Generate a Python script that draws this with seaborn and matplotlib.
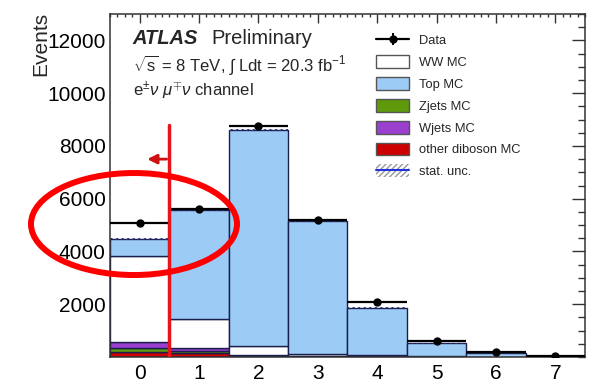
import numpy as np
import pandas as pd
import seaborn as sns
import matplotlib.pyplot as plt
from matplotlib.patches import Patch, Ellipse
from matplotlib.lines import Line2D
from matplotlib.ticker import MultipleLocator

# number of jets, one bin per integer
njets = [0, 1, 2, 3, 4, 5, 6, 7]

# stacked MC, events per bin
other_diboson = [200, 165, 50, 20, 10, 5, 2, 1]
zjets = [130, 75, 20, 10, 5, 3, 1, 0]
wjets = [250, 90, 20, 10, 5, 2, 0, 0]
ww = [3265, 1110, 340, 70, 40, 15, 5, 2]
top = [633, 4120, 8170, 5040, 1810, 495, 132, 37]

data = [5070, 5600, 8760, 5180, 2070, 620, 180, 50]

processes = ['Top MC', 'WW MC', 'Wjets MC', 'Zjets MC', 'other diboson MC']
colors = ['#9ccbf6', '#ffffff', '#9b3fd0', '#5e9a0c', '#cc0000']

cut_value = 0.5
cut_top = 8800
arrow_y = 7500

sns.set_theme(style='white')
plt.rcParams['font.family'] = ['Liberation Sans', 'DejaVu Sans']
plt.rcParams['mathtext.fontset'] = 'custom'
plt.rcParams['mathtext.rm'] = 'Liberation Sans'
plt.rcParams['mathtext.it'] = 'Liberation Sans:italic'

# long table for seaborn
rows = []
for name, vals in zip(processes, [top, ww, wjets, zjets, other_diboson]):
    for n, v in zip(njets, vals):
        rows.append({'njets': n, 'events': v, 'process': name})
df = pd.DataFrame(rows)

fig = plt.figure(figsize=(5.96, 3.9), dpi=100)
ax = fig.add_axes([0.1846, 0.0846, 0.7969, 0.8795])

sns.histplot(data=df, x='njets', weights='events', hue='process', hue_order=processes,
             palette=colors, multiple='stack', discrete=True, alpha=1, legend=False,
             edgecolor='#1b1f4d', linewidth=1.0, ax=ax)

# stat. uncertainty band on the total
total = np.array(top) + np.array(ww) + np.array(wjets) + np.array(zjets) + np.array(other_diboson)
err = np.sqrt(total) * 0.5
ax.bar(njets, 2 * err, bottom=total - err, width=1, fill=False, hatch='//////',
       edgecolor='#2a2f7a', linewidth=0)

# data
ax.errorbar(njets, data, xerr=0.5, yerr=np.sqrt(data), fmt='o', color='black',
            ms=5, elinewidth=1.6, capsize=0, zorder=5)

# cut line and arrow
ax.plot([cut_value, cut_value], [0, cut_top], color='#e8141c', lw=2.5, zorder=6)
ax.annotate('', xy=(0.08, arrow_y), xytext=(cut_value, arrow_y),
            arrowprops=dict(arrowstyle='-|>', color='#cc1111', lw=2, mutation_scale=14), zorder=6)

ax.set_axisbelow(False)
ax.set_xlim(-0.5, 7.5)
ax.set_ylim(0, 13000)
ax.set_xticks(njets)
ax.set_yticks(range(2000, 12001, 2000))
ax.xaxis.set_minor_locator(MultipleLocator(0.125))
ax.yaxis.set_minor_locator(MultipleLocator(500))
ax.tick_params(axis='both', which='both', direction='in', top=True, right=True,
               colors='#333333', labelcolor='black', labelsize=15)
ax.tick_params(axis='y', which='major', length=9.4, width=1, pad=3)
ax.tick_params(axis='y', which='minor', length=5, width=1)
ax.tick_params(axis='x', which='major', length=6.5, width=1, pad=5)
ax.tick_params(axis='x', which='minor', length=2.5, width=1)
for s in ax.spines.values():
    s.set_color('#333333')
    s.set_linewidth(1.1)
ax.set_xlabel('')
ax.set_ylabel('Events', fontsize=15, loc='top')
ax.yaxis.set_label_coords(-0.125, 1.005)

# labels
ax.text(0.048, 0.93, 'ATLAS', transform=ax.transAxes, fontsize=14.5, fontweight='bold',
        fontstyle='italic', va='center')
ax.text(0.2126, 0.93, 'Preliminary', transform=ax.transAxes, fontsize=14.5, va='center')
ax.text(0.048, 0.85, r'$\sqrt{\mathrm{s}}$ = 8 TeV, $\int$ Ldt = 20.3 fb$^{-1}$',
        transform=ax.transAxes, fontsize=12, va='center')
ax.text(0.048, 0.777, r'e$^{\pm}$$\nu$ $\mu^{\mp}$$\nu$ channel', transform=ax.transAxes,
        fontsize=12, va='center')

data_handle = (Line2D([], [], color='black', lw=1.6, marker='o', ms=5),
               Line2D([], [], color='black', lw=0, marker='|', ms=9, mew=1.4))
handles = [data_handle,
           Patch(facecolor='white', edgecolor='#555555', lw=1),
           Patch(facecolor=colors[0], edgecolor='#555555', lw=1),
           Patch(facecolor=colors[3], edgecolor='#555555', lw=1),
           Patch(facecolor=colors[2], edgecolor='#555555', lw=1),
           Patch(facecolor=colors[4], edgecolor='#555555', lw=1),
           (Patch(facecolor='none', edgecolor='#999999', hatch='//////', lw=0),
            Line2D([], [], color='#2233dd', lw=1.5))]
labels = ['Data', 'WW MC', 'Top MC', 'Zjets MC', 'Wjets MC', 'other diboson MC', 'stat. unc.']
ax.legend(handles, labels, loc='upper left', bbox_to_anchor=(0.561, 0.943), frameon=False,
          fontsize=9.3, handlelength=2.5, handleheight=1.15, labelspacing=0.62,
          borderpad=0, borderaxespad=0, handletextpad=0.8)

# highlight ellipse in figure coordinates
ell = Ellipse((0.2248, 0.4256), 0.3456, 0.2615, transform=fig.transFigure, fill=False,
              edgecolor='#ff0000', lw=4.3, clip_on=False, zorder=10)
fig.add_artist(ell)

fig.savefig('out.png', dpi=100)
